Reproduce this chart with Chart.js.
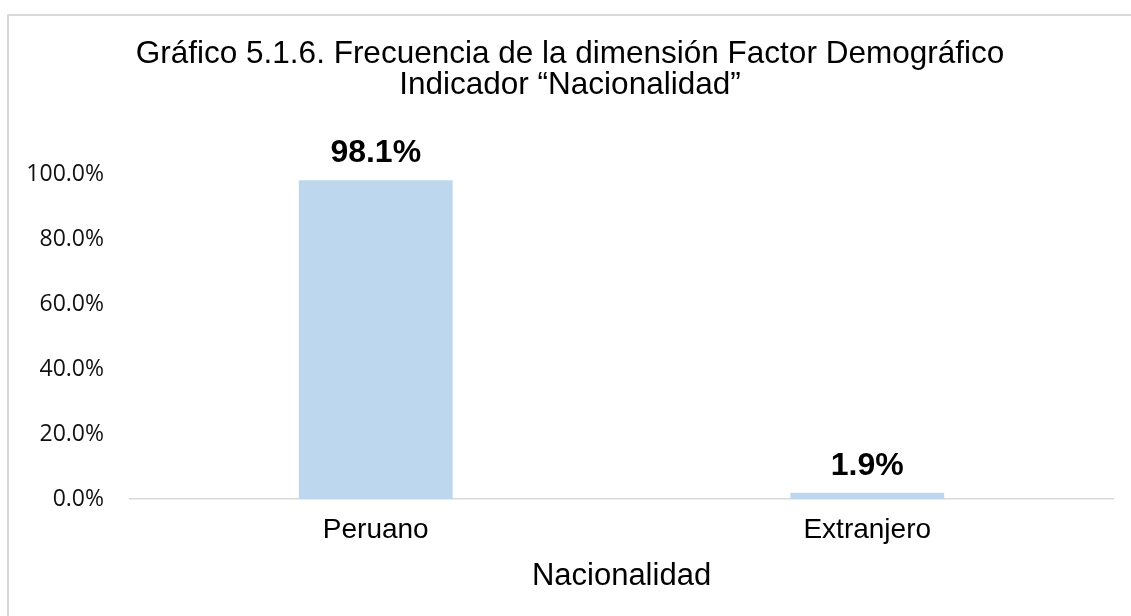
<!DOCTYPE html>
<html lang="es">
<head>
    <meta charset="UTF-8">
    <title>Nacionalidad</title>
    <script src="https://cdn.jsdelivr.net/npm/chart.js"></script>
    <style>
        html, body { margin: 0; padding: 0; background: #fff; }
        #wrap { width: 1131px; height: 616px; }
    </style>
</head>
<body>
<div id="wrap"><canvas id="nacChart" width="1131" height="616"></canvas></div>

<script>
// datos
const categorias = ['Peruano', 'Extranjero'];
const porcentajes = [98.1, 1.9];
const yTicks = [0, 20, 40, 60, 80, 100];
const tituloLineas = ['Gráfico 5.1.6. Frecuencia de la dimensión Factor Demográfico', 'Indicador “Nacionalidad”'];
const ejeXTitulo = 'Nacionalidad';

// marco gris alrededor del grafico
const marco = {
    id: 'marco',
    beforeDraw(chart) {
        const c = chart.ctx;
        c.save();
        c.strokeStyle = '#d9d9d9';
        c.lineWidth = 2;
        c.strokeRect(8, 15, 2000, 2000);
        c.restore();
    }
};

// etiquetas de valor encima de las barras
const etiquetas = {
    id: 'etiquetas',
    afterDatasetsDraw(chart) {
        const c = chart.ctx;
        const meta = chart.getDatasetMeta(0);
        c.save();
        c.font = 'bold 32px "Liberation Sans", Arial, sans-serif';
        c.fillStyle = '#000';
        c.textAlign = 'center';
        c.textBaseline = 'alphabetic';
        meta.data.forEach((bar, i) => {
            c.fillText(porcentajes[i].toFixed(1) + '%', bar.x, bar.y - 18);
        });
        c.restore();
    }
};

const ctx = document.getElementById('nacChart').getContext('2d');
const chart = new Chart(ctx, {
    type: 'bar',
    data: {
        labels: categorias,
        datasets: [{
            data: porcentajes,
            backgroundColor: '#bdd7ee',
            borderWidth: 0,
            categoryPercentage: 1,
            barPercentage: 0.313
        }]
    },
    options: {
        responsive: false,
        animation: false,
        layout: { padding: { left: 27, right: 18, top: 0, bottom: 24.4 } },
        plugins: {
            legend: { display: false },
            tooltip: { enabled: false },
            title: {
                display: true,
                text: tituloLineas,
                color: '#000',
                font: { family: '"Liberation Sans", Arial, sans-serif', size: 31.5, weight: 'normal', lineHeight: 31 / 31.5 },
                padding: { top: 38.5, bottom: 73.5 }
            }
        },
        scales: {
            x: {
                grid: { display: false, drawTicks: false },
                border: { display: true, color: '#d9d9d9', width: 1.5 },
                ticks: {
                    padding: 14,
                    color: '#000',
                    font: { family: '"Liberation Sans", Arial, sans-serif', size: 28 }
                },
                title: {
                    display: true,
                    text: ejeXTitulo,
                    color: '#000',
                    font: { family: '"Liberation Sans", Arial, sans-serif', size: 31, lineHeight: 1 },
                    padding: { top: 0, bottom: 0 }
                }
            },
            y: {
                min: 0,
                max: 100,
                afterFit(scale) { scale.width = 103; },
                afterBuildTicks(scale) { scale.ticks = yTicks.map(v => ({ value: v })); },
                grid: { display: false, drawTicks: false },
                border: { display: false },
                ticks: {
                    padding: 26,
                    color: '#111',
                    font: { family: '"Open Sans", "Liberation Sans", sans-serif', size: 23 },
                    callback: v => v.toFixed(1) + '%'
                }
            }
        }
    },
    plugins: [marco, etiquetas]
});
</script>
</body>
</html>
